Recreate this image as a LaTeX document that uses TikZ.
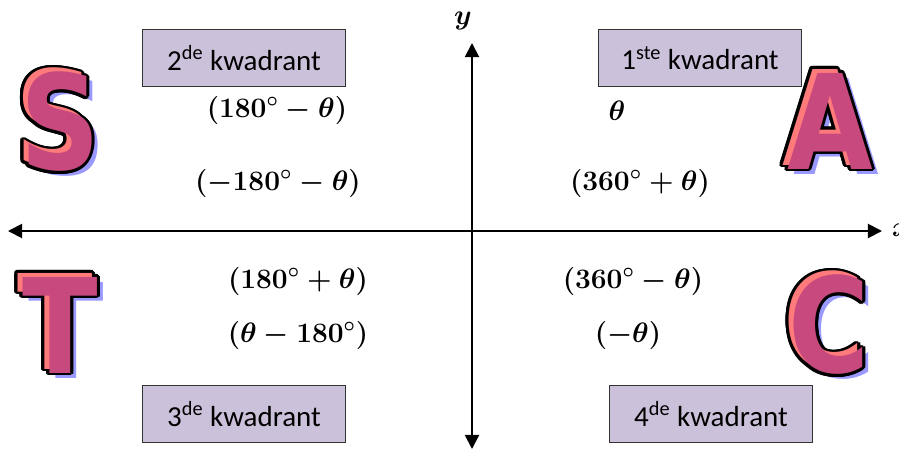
\RequirePackage{fix-cm}
\documentclass[tikz,border=0pt]{standalone}
\usepackage{fontspec}
\usepackage{amsmath}
\usetikzlibrary{arrows.meta}
\newfontfamily\boxfont{Carlito}
\newfontfamily\letterfont{DejaVu Sans}
\definecolor{boxlilac}{RGB}{204,193,218}
\definecolor{letterpink}{RGB}{200,73,126}
\definecolor{letterlight}{RGB}{255,122,122}
\definecolor{lettershadow}{RGB}{153,153,255}

% big outlined letter: name, position, letter
\newcommand{\castletter}[3]{%
  \coordinate (#1-c) at (#2);
  \node[bigletter, text=lettershadow] (#1-shadow)
    at ([shift={(11,9)}]#1-c) {\scalebox{0.84}[1]{#3}};
  \foreach \ang in {0,20,...,340}{
    \node[bigletter, text=black] (#1-ol\ang)
      at ([shift={(\ang:3)}]#1-c) {\scalebox{0.84}[1]{#3}};
    \node[bigletter, text=black] (#1-om\ang)
      at ([shift={(5,4)},shift={(\ang:3)}]#1-c) {\scalebox{0.84}[1]{#3}};
  }
  \node[bigletter, text=letterlight] (#1-light) at (#1-c) {\scalebox{0.84}[1]{#3}};
  \node[bigletter, text=letterpink] (#1)
    at ([shift={(5,4)}]#1-c) {\scalebox{0.84}[1]{#3}};
}

\begin{document}
\begin{tikzpicture}[
  x=0.02cm, y=-0.02cm,
  quadbox/.style={draw=black!80, line width=0.7pt, fill=boxlilac,
                  minimum width=4.06cm, minimum height=1.14cm,
                  font=\boxfont\fontsize{16.5}{20}\selectfont},
  angle/.style={font=\fontsize{16}{19}\selectfont\boldmath, inner sep=1pt},
  bigletter/.style={inner sep=0pt,
                    font=\letterfont\bfseries\fontsize{75}{77}\selectfont},
  axis/.style={line width=1.1pt,
               {Triangle[length=8pt,width=8pt]}-{Triangle[length=8pt,width=8pt]}}]

  \useasboundingbox (0,0) rectangle (899,450);

  % S A T C
  \castletter{S}{55,118}{S}
  \castletter{A}{825,117}{A}
  \castletter{T}{55,321}{T}
  \castletter{C}{824,321}{C}

  % quadrant boxes
  \node[quadbox] (q2) at (244,58) {2\textsuperscript{de} kwadrant};
  \node[quadbox] (q1) at (700,58) {1\textsuperscript{ste} kwadrant};
  \node[quadbox] (q3) at (244,414) {3\textsuperscript{de} kwadrant};
  \node[quadbox] (q4) at (711,414) {4\textsuperscript{de} kwadrant};

  % axes
  \coordinate (xl) at (8,231);
  \coordinate (xr) at (882,231);
  \coordinate (yt) at (472,43);
  \coordinate (yb) at (472,449);
  \draw[axis] (xl) -- (xr);
  \draw[axis] (yb) -- (yt);
  \node[angle] (ylab) at (463,21) {$y$};
  \node[angle, anchor=west] (xlab) at (890,230) {$x$};

  % angles per quadrant
  \node[angle] (a2a) at (277,110) {$(180^\circ-\theta)$};
  \node[angle] (a2b) at (278,183) {$(-180^\circ-\theta)$};
  \node[angle] (a1a) at (617,111) {$\theta$};
  \node[angle] (a1b) at (640,183) {$(360^\circ+\theta)$};
  \node[angle] (a3a) at (298,281) {$(180^\circ+\theta)$};
  \node[angle] (a3b) at (298,335) {$(\theta-180^\circ)$};
  \node[angle] (a4a) at (633,281) {$(360^\circ-\theta)$};
  \node[angle] (a4b) at (628,335) {$(-\theta)$};
\end{tikzpicture}
\end{document}
